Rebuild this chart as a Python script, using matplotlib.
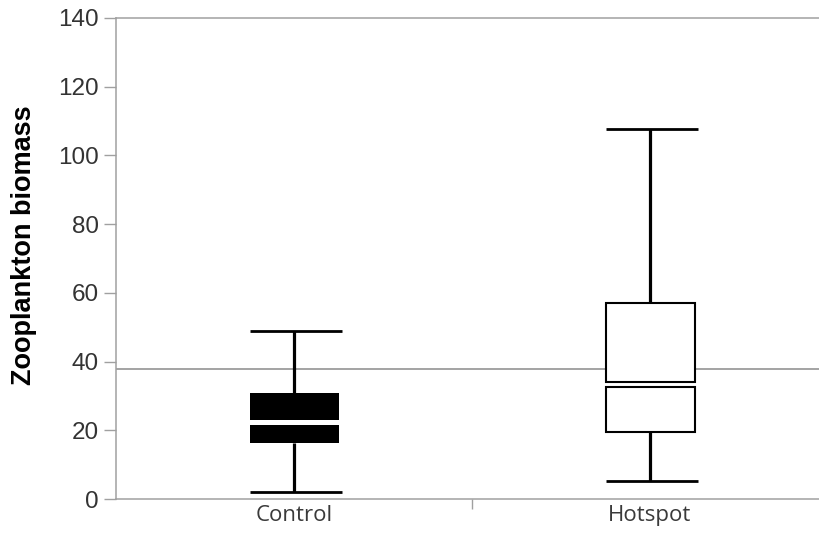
import matplotlib.pyplot as plt
import numpy as np

# box summary per site
groups = ['Control', 'Hotspot']
whisker_low = np.array([2.1, 5.2])
q1 = np.array([16.4, 19.6])
median = np.array([22.3, 33.3])
q3 = np.array([30.9, 57.1])
whisker_high = np.array([48.9, 107.7])
grand_mean = 37.8
box_fill = ['black', 'white']
box_edge_lw = [0, 1.5]

box_w = 0.25
half_gap = 0.75  # white gap drawn at the median

fig = plt.figure(figsize=(8.19, 5.33), dpi=100)
ax = fig.add_axes([116 / 819, 34 / 533, 712 / 819, 481 / 533])
x = np.arange(len(groups))

ax.axhline(grand_mean, color='#8a8a8a', lw=1.1, zorder=1)

# whiskers and caps
ax.vlines(x, whisker_low, q1, color='black', lw=2.3, zorder=2)
ax.vlines(x, q3, whisker_high, color='black', lw=2.3, zorder=2)
ax.hlines(whisker_low, x - box_w / 2, x + box_w / 2 + 0.01, color='black', lw=2.0, zorder=2)
ax.hlines(whisker_high, x - box_w / 2, x + box_w / 2 + 0.01, color='black', lw=2.0, zorder=2)

# box split in two at the median
ax.bar(x, median - half_gap - q1, bottom=q1, width=box_w, color=box_fill,
       edgecolor='black', linewidth=box_edge_lw, zorder=3)
ax.bar(x, q3 - median - half_gap, bottom=median + half_gap, width=box_w, color=box_fill,
       edgecolor='black', linewidth=box_edge_lw, zorder=3)

ax.set_xlim(-0.5, 1.5)
ax.set_ylim(0, 140)

for side in ['left', 'bottom', 'top']:
    ax.spines[side].set_color('#a0a0a0')
    ax.spines[side].set_linewidth(1.1)
ax.spines['right'].set_visible(False)

ax.set_yticks(np.arange(0, 141, 20))
ax.tick_params(axis='y', length=8.5, width=1, color='#a0a0a0', pad=4,
               labelsize=17.5, labelcolor='#333333')
for lab in ax.get_yticklabels():
    lab.set_family('Liberation Sans')

ax.set_xticks(x)
ax.set_xticklabels(groups, family='Open Sans', fontsize=16, color='#3a3a3a')
ax.tick_params(axis='x', length=0, pad=4)
ax.set_xticks([0.5], minor=True)
ax.tick_params(axis='x', which='minor', length=7, width=1, color='#a0a0a0')

ax.set_ylabel('Zooplankton biomass', family='Liberation Sans', fontweight='bold',
              fontsize=19.5, color='black')
ax.yaxis.set_label_coords(-0.111, 0.528)

fig.savefig('out.png', dpi=100)
